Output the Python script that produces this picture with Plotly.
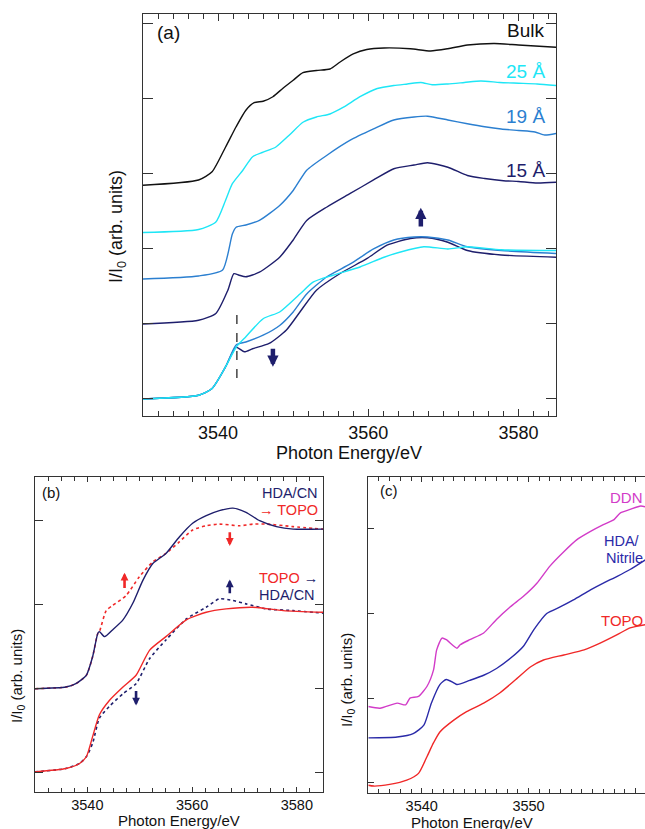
import plotly.graph_objects as go

# ---------------- Panel (a) data ----------------
bulk_x = [3530.0, 3537.4, 3539.2, 3541.0, 3542.4, 3543.7, 3544.8, 3546.0, 3547.3, 3548.6, 3550.0,
          3551.3, 3553.1, 3554.9, 3556.2, 3558.0, 3559.8, 3562.1, 3565.6, 3568.3, 3570.6, 3573.2,
          3576.8, 3580.0, 3585.0]
bulk_y = [2.85, 2.92, 3.03, 3.36, 3.63, 3.85, 3.95, 3.97, 4.03, 4.14, 4.25,
          4.35, 4.38, 4.40, 4.49, 4.60, 4.66, 4.68, 4.67, 4.64, 4.67, 4.72,
          4.74, 4.72, 4.69]

a25_x = [3530.0, 3537.4, 3539.7, 3541.0, 3541.9, 3543.3, 3544.6, 3546.0, 3547.7, 3549.5, 3551.3,
         3553.1, 3554.9, 3556.7, 3558.9, 3561.2, 3563.4, 3565.2, 3567.0, 3568.5, 3570.6, 3572.8,
         3575.0, 3577.5, 3580.0, 3582.5, 3585.0]
a25_y = [2.22, 2.26, 2.36, 2.65, 2.87, 3.05, 3.23, 3.29, 3.36, 3.52, 3.69,
         3.76, 3.80, 3.89, 4.03, 4.14, 4.18, 4.20, 4.22, 4.19, 4.20, 4.22,
         4.24, 4.22, 4.21, 4.20, 4.18]

a19_x = [3530.0, 3537.4, 3540.6, 3541.9, 3542.4, 3543.7, 3545.5, 3548.2, 3550.0, 3551.8, 3554.5,
         3557.6, 3560.7, 3563.4, 3566.1, 3567.9, 3570.6, 3573.2, 3575.5, 3577.7, 3580.0, 3582.2,
         3583.5, 3585.0]
a19_y = [1.60, 1.64, 1.72, 2.20, 2.29, 2.32, 2.38, 2.58, 2.78, 3.05, 3.25,
         3.45, 3.60, 3.72, 3.76, 3.77, 3.72, 3.67, 3.63, 3.60, 3.58, 3.56,
         3.52, 3.54]

a15_x = [3530.0, 3537.4, 3539.7, 3541.3, 3542.1, 3542.8, 3543.7, 3545.5, 3548.2, 3550.0, 3551.8,
         3554.5, 3557.6, 3560.7, 3563.4, 3566.1, 3567.9, 3570.6, 3573.2, 3575.5, 3578.0, 3580.0,
         3582.5, 3585.0]
a15_y = [1.00, 1.05, 1.14, 1.45, 1.67, 1.65, 1.63, 1.69, 1.89, 2.12, 2.38,
         2.56, 2.74, 2.92, 3.07, 3.12, 3.15, 3.09, 2.98, 2.94, 2.91, 2.90,
         2.88, 2.89]

# normalised (overlaid) spectra, bottom of panel (a)
n25_x = [3530.0, 3537.4, 3539.2, 3541.0, 3542.4, 3543.7, 3546.0, 3548.2, 3550.9, 3552.7, 3555.3,
         3558.9, 3562.1, 3564.3, 3567.4, 3570.6, 3573.2, 3577.7, 3585.0]
n25_y = [0.00, 0.05, 0.14, 0.43, 0.69, 0.83, 1.07, 1.16, 1.40, 1.56, 1.65,
         1.76, 1.89, 1.96, 2.03, 2.00, 2.03, 1.99, 1.98]

n19_x = [3530.0, 3537.4, 3539.2, 3541.0, 3542.4, 3543.7, 3546.0, 3548.2, 3550.0, 3551.8, 3554.5,
         3557.6, 3560.7, 3563.4, 3566.1, 3567.9, 3570.6, 3573.2, 3577.7, 3585.0]
n19_y = [0.00, 0.05, 0.14, 0.43, 0.72, 0.76, 0.85, 0.98, 1.16, 1.40, 1.63,
         1.80, 2.00, 2.12, 2.16, 2.16, 2.12, 2.03, 1.98, 1.94]

n15_x = [3530.0, 3537.4, 3539.2, 3541.0, 3542.4, 3543.5, 3544.6, 3546.8, 3549.1, 3550.9, 3553.1,
         3556.2, 3559.8, 3562.5, 3565.6, 3567.9, 3570.6, 3573.2, 3577.7, 3585.0]
n15_y = [0.00, 0.05, 0.14, 0.43, 0.69, 0.63, 0.67, 0.74, 0.92, 1.16, 1.45,
         1.67, 1.87, 2.05, 2.14, 2.15, 2.09, 1.98, 1.92, 1.89]

# ---------------- Panel (b) data ----------------
b_hda_x = [3530.0, 3535.9, 3537.8, 3539.8, 3541.0, 3542.0, 3542.3, 3543.3, 3544.8, 3546.8, 3548.7,
           3550.6, 3552.5, 3555.0, 3557.6, 3560.1, 3562.7, 3565.2, 3567.8, 3570.3, 3572.9, 3576.1,
           3579.3, 3585.0]
b_hda_y = [1.00, 1.02, 1.06, 1.16, 1.38, 1.66, 1.68, 1.62, 1.70, 1.82, 2.02,
           2.29, 2.49, 2.61, 2.81, 2.97, 3.06, 3.12, 3.15, 3.10, 3.00, 2.93,
           2.90, 2.90]

b_topo1_x = [3530.0, 3535.9, 3537.8, 3539.8, 3541.0, 3542.0, 3542.3, 3543.6, 3544.8, 3547.4, 3549.9,
             3552.5, 3555.0, 3557.6, 3560.1, 3562.7, 3565.2, 3569.1, 3571.6, 3574.2, 3579.3, 3585.0]
b_topo1_y = [1.00, 1.02, 1.06, 1.16, 1.38, 1.66, 1.68, 1.93, 1.99, 2.11, 2.33,
             2.51, 2.61, 2.75, 2.89, 2.94, 2.96, 2.94, 2.96, 2.96, 2.93, 2.90]

b_topo2_x = [3530.0, 3535.9, 3538.5, 3539.8, 3541.0, 3542.3, 3544.2, 3546.8, 3549.3, 3551.9, 3555.0,
             3558.9, 3562.7, 3566.5, 3571.6, 3577.4, 3585.0]
b_topo2_y = [0.01, 0.05, 0.11, 0.19, 0.43, 0.69, 0.86, 1.02, 1.16, 1.46, 1.62,
             1.82, 1.91, 1.95, 1.97, 1.93, 1.91]

b_hda2_x = [3530.0, 3535.9, 3538.5, 3539.8, 3541.0, 3542.3, 3544.2, 3546.8, 3549.3, 3551.9, 3555.0,
            3558.9, 3562.7, 3565.2, 3567.8, 3570.3, 3574.2, 3579.3, 3585.0]
b_hda2_y = [0.01, 0.05, 0.11, 0.19, 0.35, 0.65, 0.79, 0.94, 1.06, 1.36, 1.58,
            1.83, 1.97, 2.07, 2.05, 2.01, 1.95, 1.93, 1.90]

# ---------------- Panel (c) data ----------------
c_ddn_x = [3535.0, 3536.1, 3537.7, 3538.5, 3538.9, 3539.7, 3540.5, 3541.1, 3541.4, 3541.9, 3542.3,
           3543.3, 3543.6, 3544.5, 3545.8, 3547.0, 3548.3, 3549.5, 3550.8, 3552.0, 3553.3, 3554.5,
           3555.8, 3557.0, 3558.0, 3558.6, 3559.5, 3560.5, 3561.0]
c_ddn_y = [0.90, 0.88, 0.94, 0.92, 1.00, 1.02, 1.14, 1.33, 1.57, 1.71, 1.69,
           1.59, 1.63, 1.69, 1.77, 1.93, 2.08, 2.20, 2.36, 2.56, 2.73, 2.87,
           2.97, 3.05, 3.11, 3.19, 3.23, 3.27, 3.26]

c_hda_x = [3535.0, 3537.7, 3539.2, 3540.2, 3540.9, 3541.7, 3542.3, 3543.0, 3543.3, 3544.5, 3545.8,
           3547.0, 3548.3, 3549.5, 3550.5, 3551.7, 3553.0, 3554.2, 3555.8, 3557.0, 3558.3, 3559.5,
           3561.0]
c_hda_y = [0.53, 0.54, 0.58, 0.68, 0.94, 1.16, 1.22, 1.18, 1.16, 1.21, 1.27,
           1.35, 1.47, 1.61, 1.81, 2.00, 2.08, 2.16, 2.28, 2.36, 2.44, 2.52,
           2.64]

c_topo_x = [3535.0, 3535.5, 3537.0, 3538.6, 3539.7, 3540.5, 3541.1, 3541.7, 3543.0, 3544.2, 3545.8,
            3547.3, 3548.9, 3550.2, 3551.4, 3553.3, 3555.2, 3556.7, 3558.3, 3559.5, 3561.0]
c_topo_y = [-0.03, -0.04, -0.02, 0.03, 0.11, 0.31, 0.47, 0.60, 0.74, 0.84, 0.94,
            1.06, 1.23, 1.37, 1.45, 1.51, 1.57, 1.65, 1.75, 1.83, 1.87]

# ---------------- colours ----------------
BLACK = "#111111"
CYAN = "#1ee6f6"
MBLUE = "#2b7fd0"
NAVY = "#1e1e6c"
RED = "#f02828"
MAGENTA = "#d23cc8"
BLUE = "#2a2aa8"
FONT = "Liberation Sans, Arial, sans-serif"

fig = go.Figure()

def add(x, y, color, xa, ya, dash="solid", width=1.4):
    fig.add_trace(go.Scatter(x=x, y=y, mode="lines", xaxis=xa, yaxis=ya,
                             line=dict(color=color, width=width, dash=dash,
                                       shape="spline", smoothing=0.6),
                             showlegend=False, hoverinfo="skip"))

# panel a
add(bulk_x, bulk_y, BLACK, "x", "y")
add(a25_x, a25_y, CYAN, "x", "y")
add(a19_x, a19_y, MBLUE, "x", "y")
add(a15_x, a15_y, NAVY, "x", "y")
add(n15_x, n15_y, NAVY, "x", "y")
add(n19_x, n19_y, MBLUE, "x", "y")
add(n25_x, n25_y, CYAN, "x", "y")

# panel b
add(b_topo1_x, b_topo1_y, RED, "x2", "y2", dash="dot", width=1.6)
add(b_hda_x, b_hda_y, NAVY, "x2", "y2")
add(b_hda2_x, b_hda2_y, NAVY, "x2", "y2", dash="dot", width=1.6)
add(b_topo2_x, b_topo2_y, RED, "x2", "y2")

# panel c
add(c_ddn_x, c_ddn_y, MAGENTA, "x3", "y3")
add(c_hda_x, c_hda_y, BLUE, "x3", "y3")
add(c_topo_x, c_topo_y, RED, "x3", "y3")

W, H = 645, 829
def px(xp):
    return xp / W
def py(yp):
    return 1 - yp / H

axis_common = dict(showline=True, linecolor="#333333", linewidth=1, ticks="inside",
                   tickcolor="#333333", showgrid=False, zeroline=False)

fig.update_layout(
    width=W, height=H, margin=dict(l=0, r=0, t=0, b=0),
    paper_bgcolor="white", plot_bgcolor="white",
    font=dict(family=FONT, color="#111111"),
    xaxis=dict(domain=[px(143), px(556)], range=[3530, 3585], anchor="y",
               tickvals=[3540, 3560, 3580], ticklen=7, mirror="ticks",
               tickfont=dict(size=18), ticklabelstandoff=0,
               minor=dict(dtick=2, tick0=3530, ticks="inside", ticklen=5, tickcolor="#333333"),
               **axis_common),
    yaxis=dict(domain=[py(416), py(14)], range=[-0.227, 5.133], anchor="x",
               tickvals=[0, 1, 2, 3, 4, 5], ticklen=10, mirror="ticks", showticklabels=False,
               **axis_common),
    xaxis2=dict(domain=[px(35), px(323)], range=[3530, 3585], anchor="y2",
                tickvals=[3540, 3560, 3580], ticklen=5, mirror="ticks",
                tickfont=dict(size=14.5), ticklabelstandoff=0,
                minor=dict(dtick=2.5, tick0=3530, ticks="inside", ticklen=4, tickcolor="#333333"),
                **axis_common),
    yaxis2=dict(domain=[py(791.7), py(476.7)], range=[-0.226, 3.524], anchor="x2",
                tickvals=[0, 1, 2, 3], ticklen=8, mirror="ticks", showticklabels=False,
                **axis_common),
    xaxis3=dict(domain=[px(368.3), 1.0], range=[3535, 3560.9], anchor="y3",
                tickvals=[3540, 3550, 3560], ticklen=5, mirror="ticks",
                tickfont=dict(size=14.5), ticklabelstandoff=0,
                minor=dict(dtick=1, tick0=3535, ticks="inside", ticklen=4, tickcolor="#333333"),
                **axis_common),
    yaxis3=dict(domain=[py(792.5), py(477.3)], range=[-0.116, 3.61], anchor="x3",
                tickvals=[0, 1, 2, 3], ticklen=6, mirror=False, showticklabels=False,
                **axis_common),
)

ann = []
def label(text, x, y, size, color="#111111", xanchor="right"):
    ann.append(dict(text=text, x=px(x), y=py(y), xref="paper", yref="paper",
                    xanchor=xanchor, yanchor="middle", showarrow=False, borderpad=0,
                    font=dict(size=size, color=color, family=FONT)))

# panel a texts
label("(a)", 156, 33, 19, xanchor="left")
label("Bulk", 545, 30, 19)
label("25 Å", 546, 71, 19, CYAN)
label("19 Å", 546, 117, 19, MBLUE)
label("15 Å", 546, 170, 19, NAVY)
label("Photon Energy/eV", 349, 453, 18, xanchor="center")
ann.append(dict(text="I/I<sub>0</sub> (arb. units)", x=px(118), y=py(227), xref="paper", yref="paper",
                textangle=-90, showarrow=False, xanchor="center", yanchor="middle",
                font=dict(size=18, color="#111111", family=FONT)))

# panel b texts
label("(b)", 41, 492, 15, xanchor="left")
label("HDA/CN", 319, 493, 14.5, NAVY)
label("<span style='color:%s'>→</span> TOPO" % RED, 319, 510, 14.5, RED)
label("TOPO <span style='color:%s'>→</span>" % NAVY, 319, 578, 14.5, RED)
label("HDA/CN", 316, 595, 14.5, NAVY)
label("Photon Energy/eV", 179, 820, 15, xanchor="center")
ann.append(dict(text="I/I<sub>0</sub> (arb. units)", x=px(17), y=py(676), xref="paper", yref="paper",
                textangle=-90, showarrow=False, xanchor="center", yanchor="middle",
                font=dict(size=15, color="#111111", family=FONT)))

# panel c texts
label("(c)", 379, 490, 15, xanchor="left")
label("DDN", 644, 498, 15, MAGENTA)
label("HDA/", 641, 541, 14.5, BLUE)
label("Nitrile", 644, 558, 14.5, BLUE)
label("TOPO", 644, 620, 15, RED)
label("Photon Energy/eV", 472, 822, 15, xanchor="center")
ann.append(dict(text="I/I<sub>0</sub> (arb. units)", x=px(347), y=py(680), xref="paper", yref="paper",
                textangle=-90, showarrow=False, xanchor="center", yanchor="middle",
                font=dict(size=15, color="#111111", family=FONT)))

# arrows
def arrow(xa, ya, x, y_tail, y_head, color, width, size):
    ann.append(dict(text="", x=x, y=y_head, ax=x, ay=y_tail, xref=xa, yref=ya,
                    axref=xa, ayref=ya, showarrow=True, arrowhead=2, arrowsize=size,
                    arrowwidth=width, arrowcolor=color, standoff=0, startstandoff=0))

arrow("x", "y", 3547.3, 0.69, 0.43, NAVY, 4.5, 0.5)
arrow("x", "y", 3567.0, 2.28, 2.55, NAVY, 4.5, 0.5)
arrow("x2", "y2", 3547.1, 2.18, 2.38, RED, 2.6, 0.6)
arrow("x2", "y2", 3567.2, 2.88, 2.70, RED, 2.6, 0.6)
arrow("x2", "y2", 3567.2, 2.12, 2.30, NAVY, 2.6, 0.6)
arrow("x2", "y2", 3549.3, 0.99, 0.80, NAVY, 2.6, 0.6)

fig.update_layout(annotations=ann)

# dashed marker line in panel (a)
fig.add_shape(type="line", xref="x", yref="y", x0=3542.5, x1=3542.5, y0=0.28, y1=1.14,
              line=dict(color="#444444", width=1.5, dash="dash"))

fig.write_html("out.html", config={"displayModeBar": False},
               post_script="document.body.style.margin='0';document.body.style.overflow='hidden';")
